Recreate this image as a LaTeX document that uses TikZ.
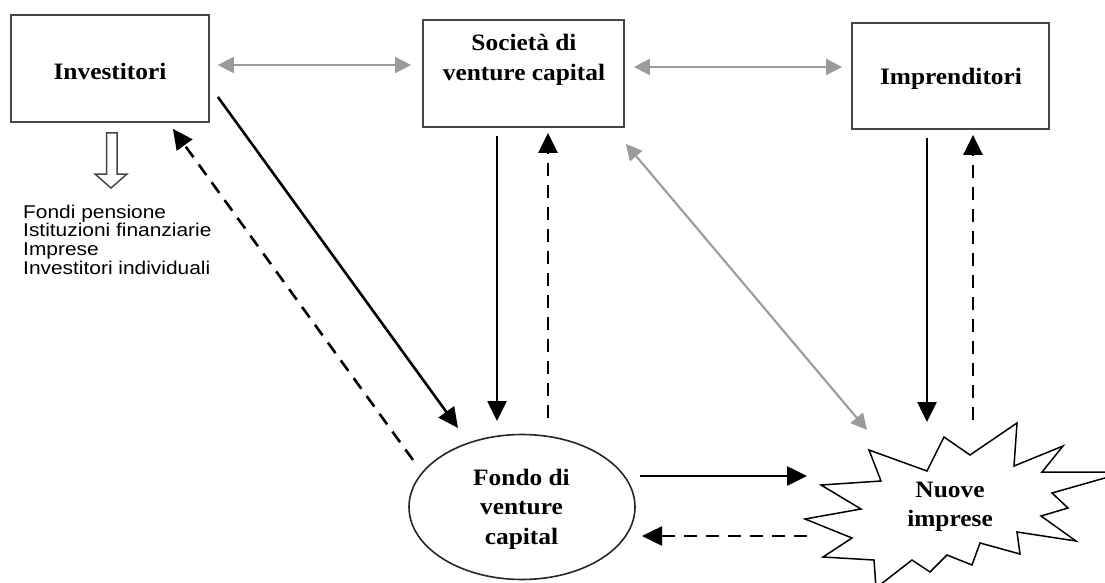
\documentclass[tikz,border=0pt]{standalone}
\usepackage{fontspec}
\setmainfont[FakeStretch=1.08]{Liberation Serif}
\newfontfamily\listfont[FakeStretch=1.13]{Liberation Sans}
\usetikzlibrary{arrows.meta,shapes.geometric}
\definecolor{linkgray}{RGB}{155,155,155}
\definecolor{framegray}{RGB}{70,70,70}

\begin{document}
\begin{tikzpicture}[x=1pt,y=-1pt,
  box/.style={draw=framegray, line width=1.8pt, rectangle, inner sep=0pt},
  lbl/.style={font=\bfseries\fontsize{23.5}{29.5}\selectfont, align=center, inner sep=0pt},
  flow/.style={line width=2.6pt, -{Triangle[length=20pt,width=19pt]}},
  back/.style={flow, dash pattern=on 13pt off 9pt},
  link/.style={draw=linkgray, line width=2.1pt,
    {Triangle[length=16pt,width=16pt]}-{Triangle[length=16pt,width=16pt]}},
]
\useasboundingbox (0,0) rectangle (1105,583);
\clip (0,0) rectangle (1105,583);

% the three actors
\node[box, minimum width=198pt, minimum height=107pt] (inv) at (110,68.5) {};
\node[box, minimum width=201pt, minimum height=107pt] (soc) at (523.5,73.5) {};
\node[box, minimum width=197pt, minimum height=106pt] (imp) at (950.5,76) {};
\node[lbl] (invtxt) at (110,71.2) {Investitori};
\node[lbl] (soctxt) at (524,60) {Società di\\venture capital};
\node[lbl] (imptxt) at (951,78.5) {Imprenditori};

% the fund
\node[ellipse, draw=black!85, line width=1.6pt, minimum width=226pt,
      minimum height=145pt, inner sep=0pt] (fondo) at (522,507) {};
\node[lbl] (fondotxt) at (521.5,509) {Fondo di\\venture\\capital};

% the new companies (starburst)
\draw[line width=1.5pt, fill=white, line join=miter]
  (869,450) -- (927,471) -- (944,437) -- (970,455) -- (1017,423) -- (1014,466)
  -- (1063,446) -- (1042,472) -- (1126,472) -- (1052,493) -- (1068,508)
  -- (1041,516) -- (1076,541) -- (1017,532) -- (1020,554) -- (980,543)
  -- (972,565) -- (947,555) -- (930,572) -- (912,560) -- (876,588)
  -- (874,560) -- (823,557) -- (852,538) -- (805,519) -- (861,509)
  -- (821,485) -- (881,481) -- cycle;
\node[lbl] (nuove) at (950,507) {Nuove\\imprese};

% kinds of investors
\draw[line width=1.5pt, draw=framegray, line join=miter]
  (106.5,133) -- (117,133) -- (117,174) -- (127,174) -- (111,188)
  -- (95,174) -- (106.5,174) -- cycle;
\node[anchor=north west, inner sep=0pt, align=left,
      font=\listfont\fontsize{18.5}{18.7}\selectfont] (kinds) at (23,204.5)
  {Fondi pensione\\Istituzioni finanziarie\\Imprese\\Investitori individuali};

% relations
\draw[link] ([shift={(8,-3.5)}]inv.east) -- ([shift={(-11,-8.5)}]soc.west);
\draw[link] ([shift={(9,-6.5)}]soc.east) -- ([shift={(-9,-9)}]imp.west);
\draw[link] ([shift={(1,16)}]soc.south east) -- ([shift={(-83,-77)}]nuove.center);

% money and returns
\draw[flow] ([shift={(8,28.5)}]inv.east) -- ([shift={(-64,-79)}]fondo.center);
\draw[back] ([shift={(-109,-47)}]fondo.center) -- ([shift={(-37,6)}]inv.south east);
\draw[flow] ([shift={(-26.5,8)}]soc.south) -- ([shift={(-25,-86)}]fondo.center);
\draw[back] ([shift={(26,-89)}]fondo.center) -- ([shift={(24.5,5)}]soc.south);
\draw[flow] ([shift={(-23.5,8)}]imp.south) -- ([shift={(-23,-85)}]nuove.center);
\draw[back] ([shift={(23,-87)}]nuove.center) -- ([shift={(22.5,5)}]imp.south);
\draw[flow] ([shift={(118,-31)}]fondo.center) -- ([shift={(-143,-31)}]nuove.center);
\draw[back] ([shift={(-143,29)}]nuove.center) -- ([shift={(120,29)}]fondo.center);
\end{tikzpicture}
\end{document}
